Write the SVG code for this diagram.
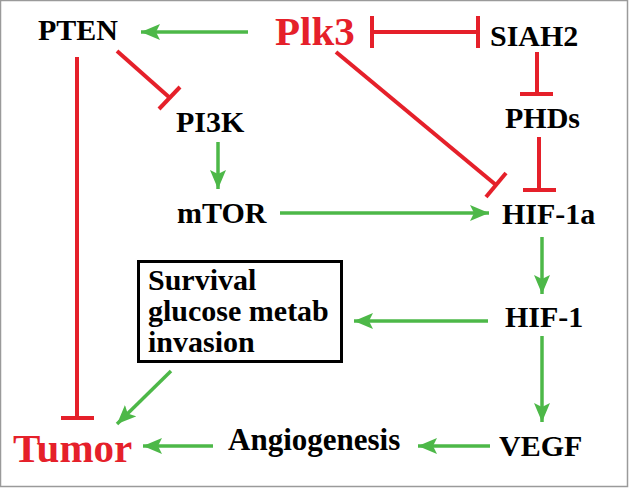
<svg xmlns="http://www.w3.org/2000/svg" width="632" height="489" viewBox="0 0 632 489">
<style>
text{font-family:'Liberation Serif','Times New Roman','DejaVu Serif',serif;font-weight:bold}
.lbl{font-size:30px;fill:#000}
.big{font-size:41px;fill:#e5202a}
.act{stroke:#4db848;stroke-width:3.5;fill:none}
.inh{stroke:#e5202a;stroke-width:4;fill:none}
.head{fill:#4db848}
</style>
<defs>
<marker id="arr" markerUnits="userSpaceOnUse" markerWidth="20" markerHeight="18" refX="19" refY="9" orient="auto">
<path d="M0,1 L19,9 L0,17 L4,9 Z" class="head"/>
</marker>
</defs>
<rect x="0.5" y="0.5" width="627" height="486" fill="#fff" stroke="#9a9a9a" stroke-width="1.5"/>
<g id="connectors">
<line class="act" x1="248" y1="32" x2="141" y2="32" marker-end="url(#arr)"/>
<line class="inh" x1="372" y1="32" x2="478" y2="32"/>
<line class="inh" x1="372" y1="16" x2="372" y2="48"/>
<line class="inh" x1="478" y1="16" x2="478" y2="48"/>
<line class="inh" x1="537" y1="52" x2="537" y2="94"/>
<line class="inh" x1="520" y1="94" x2="553" y2="94"/>
<line class="inh" x1="539" y1="137" x2="539" y2="190"/>
<line class="inh" x1="523" y1="190" x2="556" y2="190"/>
<line class="inh" x1="336" y1="52" x2="496" y2="185"/>
<line class="inh" x1="506" y1="173" x2="486" y2="197"/>
<line class="inh" x1="117" y1="51" x2="170" y2="98"/>
<line class="inh" x1="180" y1="87" x2="159" y2="109"/>
<line class="inh" x1="77" y1="57" x2="77" y2="418"/>
<line class="inh" x1="61" y1="418" x2="94" y2="418"/>
<line class="act" x1="218" y1="142" x2="218" y2="189" marker-end="url(#arr)"/>
<line class="act" x1="280" y1="213" x2="489" y2="213" marker-end="url(#arr)"/>
<line class="act" x1="542" y1="237" x2="542" y2="294" marker-end="url(#arr)"/>
<line class="act" x1="488" y1="321" x2="354" y2="321" marker-end="url(#arr)"/>
<line class="act" x1="542" y1="336" x2="542" y2="422" marker-end="url(#arr)"/>
<line class="act" x1="490" y1="446" x2="418" y2="446" marker-end="url(#arr)"/>
<line class="act" x1="213" y1="446" x2="143" y2="446" marker-end="url(#arr)"/>
<line class="act" x1="171" y1="371" x2="117" y2="424" marker-end="url(#arr)"/>
</g>
<g id="PTEN"><text class="lbl" x="38" y="40">PTEN</text></g>
<g id="Plk3"><text class="big" x="275" y="45">Plk3</text></g>
<g id="SIAH2"><text class="lbl" x="490" y="46">SIAH2</text></g>
<g id="PHDs"><text class="lbl" x="505" y="128">PHDs</text></g>
<g id="PI3K"><text class="lbl" x="176" y="132">PI3K</text></g>
<g id="mTOR"><text class="lbl" x="177" y="223">mTOR</text></g>
<g id="HIF-1a"><text class="lbl" x="502" y="224">HIF-1a</text></g>
<g id="HIF-1"><text class="lbl" x="505" y="327">HIF-1</text></g>
<g id="box">
<rect x="138.5" y="261.5" width="203" height="100" fill="none" stroke="#000" stroke-width="3"/>
<text class="lbl" x="148" y="290">Survival</text>
<text class="lbl" x="148" y="321">glucose metab</text>
<text class="lbl" x="148" y="352">invasion</text>
</g>
<g id="Tumor"><text class="big" x="13" y="462">Tumor</text></g>
<g id="Angiogenesis"><text class="lbl" x="228" y="450" style="font-size:31px">Angiogenesis</text></g>
<g id="VEGF"><text class="lbl" x="499" y="456">VEGF</text></g>
</svg>
